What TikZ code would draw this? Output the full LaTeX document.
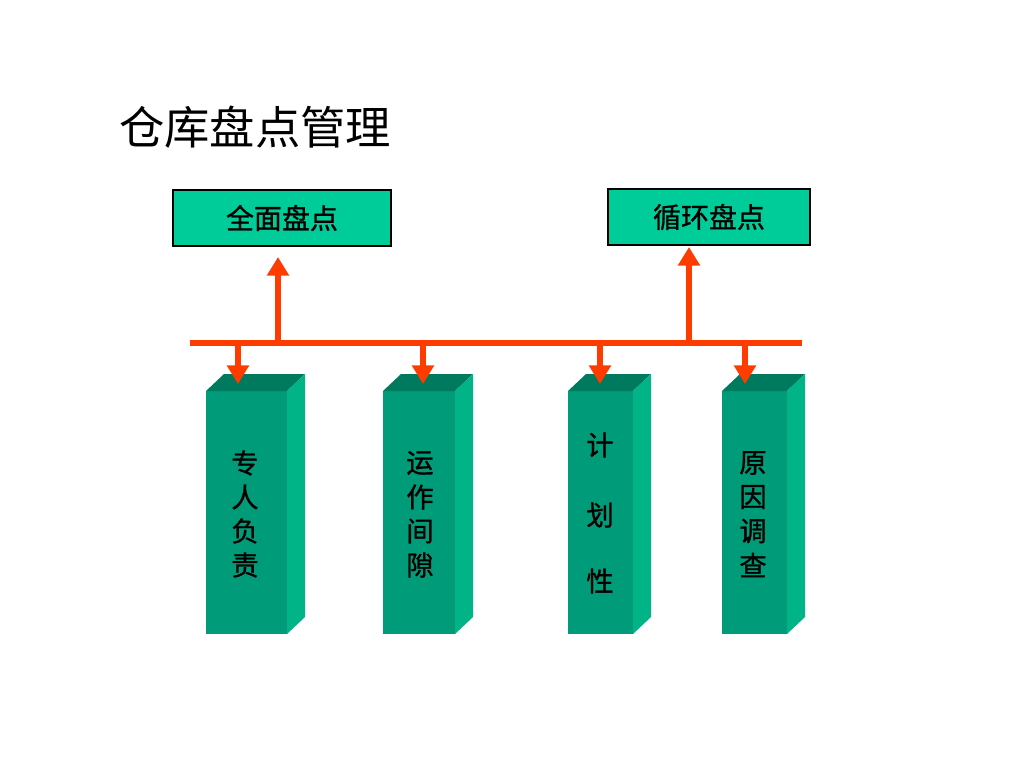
\documentclass[tikz,border=0pt]{standalone}
\usepackage{fontspec}
\setmainfont{Liberation Sans}
\newfontfamily\cjk{Noto Sans CJK SC}
\newfontfamily\cjkb[FakeBold=1]{Noto Sans CJK SC}
\usetikzlibrary{arrows.meta}
\definecolor{boxgreen}{RGB}{0,204,153}
\definecolor{frontgreen}{RGB}{0,155,120}
\definecolor{topgreen}{RGB}{0,122,94}
\definecolor{sidegreen}{RGB}{0,180,135}
\definecolor{linered}{RGB}{255,60,0}
\tikzset{
  topbox/.style={draw=black, line width=0.8pt, fill=boxgreen, minimum width=#1, minimum height=56*0.75pt, inner sep=0pt, font=\cjkb\fontsize{21}{24}\selectfont},
  redline/.style={draw=linered, line width=4.5pt},
  redarrow/.style={draw=linered, line width=4.5pt, -{Triangle[length=14pt,width=16pt]}},
  coltext/.style={font=\cjkb\fontsize{20.5}{24}\selectfont, inner sep=0pt, anchor=center},
}
\newcommand{\pillar}[5]{% name, x left, x right, top y, bottom y
  \fill[frontgreen] (#2,#4) rectangle (#3,#5);
  \fill[topgreen] (#2,#4) -- (#2+18,#4-17) -- (#3+18,#4-17) -- (#3,#4) -- cycle;
  \fill[sidegreen] (#3,#4) -- (#3+18,#4-17) -- (#3+18,#5-17) -- (#3,#5) -- cycle;
  \coordinate (#1top) at ({(#2+#3)/2+9},#4-9);
}
\begin{document}
\begin{tikzpicture}[x=0.75pt,y=-0.75pt]
\useasboundingbox[fill=white] (0,0) rectangle (1024,768);
% title
\node[font=\cjk\fontsize{34}{38}\selectfont, anchor=west, inner sep=0pt] (title) at (119,127) {仓库盘点管理};
% top boxes
\node[topbox=218*0.75pt] (b1) at (282,218) {全面盘点};
\node[topbox=202*0.75pt] (b2) at (709,217) {循环盘点};
% pillars
\pillar{p1}{206}{287}{391}{634}
\pillar{p2}{383}{455}{391}{634}
\pillar{p3}{568}{633}{391}{634}
\pillar{p4}{722}{787}{391}{634}
% pillar texts
\node[coltext] (t11) at (245,463) {专};
\node[coltext] (t12) at (245,497) {人};
\node[coltext] (t13) at (245,531) {负};
\node[coltext] (t14) at (245,565) {责};
\node[coltext] (t21) at (420,463) {运};
\node[coltext] (t22) at (420,497) {作};
\node[coltext] (t23) at (420,531) {间};
\node[coltext] (t24) at (420,565) {隙};
\node[coltext] (t31) at (600,445) {计};
\node[coltext] (t32) at (600,515) {划};
\node[coltext] (t33) at (600,581) {性};
\node[coltext] (t41) at (753,463) {原};
\node[coltext] (t42) at (753,497) {因};
\node[coltext] (t43) at (753,531) {调};
\node[coltext] (t44) at (753,565) {查};
% bus line
\coordinate (busL) at (190,343);
\coordinate (busR) at (802,343);
\draw[redline] (busL) -- (busR);
\coordinate (u1) at (278,343);
\coordinate (u2) at (689,343);
\coordinate (u1t) at (278,257);
\coordinate (u2t) at (689,247);
\draw[redarrow] (u1) -- (u1t);
\draw[redarrow] (u2) -- (u2t);
\coordinate (d1) at (238,343);
\coordinate (d2) at (423,343);
\coordinate (d3) at (600,343);
\coordinate (d4) at (745,343);
\coordinate (d1t) at (238,384);
\coordinate (d2t) at (423,384);
\coordinate (d3t) at (600,384);
\coordinate (d4t) at (745,384);
\draw[redarrow] (d1) -- (d1t);
\draw[redarrow] (d2) -- (d2t);
\draw[redarrow] (d3) -- (d3t);
\draw[redarrow] (d4) -- (d4t);
\end{tikzpicture}
\end{document}
